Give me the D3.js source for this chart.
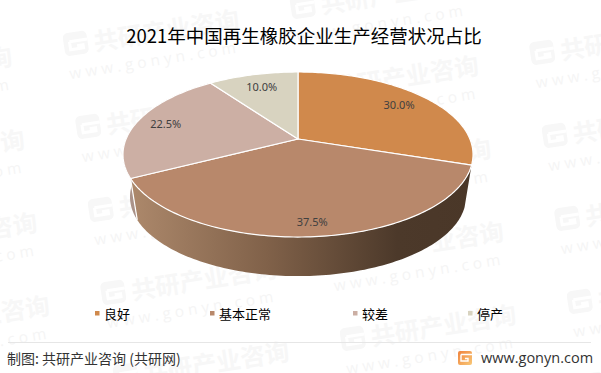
<!DOCTYPE html>
<html>
<head>
<meta charset="utf-8">
<script src="https://cdn.jsdelivr.net/npm/d3@7"></script>
<style>
html,body{margin:0;padding:0;background:#fff;}
svg{display:block;}
text{font-family:"Noto Sans CJK SC","Noto Sans",sans-serif;}
</style>
</head>
<body>
<script>
var categories=['良好','基本正常','较差','停产'];
var shares=[30.0,37.5,22.5,10.0];
var colors=['#d0894c','#b8886b','#ccafa4','#d8d3c0'];
var titleText='2021年中国再生橡胶企业生产经营状况占比';
var sourceText='制图: 共研产业咨询 (共研网)';
var siteText='www.gonyn.com';
var markText='共研产业咨询';
var markSite='w w w . g o n y n . c o m';

var width=601,height=373;
var svg=d3.select('body').append('svg').attr('width',width).attr('height',height);
var defs=svg.append('defs');

// background watermark, repeated on a slanted lattice
var wm=svg.append('g').attr('id','watermark');
for(var i=-1;i<=3;i++){
    for(var j=-1;j<=5;j++){
        var ox=75+227*i+12.5*j, oy=45-37*i+83*j;
        if(ox<-200||ox>width||oy<-20||oy>height+30) continue;
        var t=wm.append('g').attr('transform','translate('+ox+','+oy+') rotate(-9)');
        t.append('rect').attr('x',-11).attr('y',-13).attr('width',24).attr('height',23).attr('rx',5).style('fill','#f7f7f7');
        t.append('path').attr('d','M-5,-4H13M-5,-4V4H8V1H2').style('fill','none').style('stroke','#fff').style('stroke-width',3);
        t.append('text').attr('x',19).attr('y',9).text(markText)
        .style('font-size','24.5px').style('font-weight',700).style('fill','#f7f7f7');
        t.append('text').attr('x',-10).attr('y',33).text(markSite)
        .style('font-family','"Open Sans"').style('font-size','15.5px').style('fill','#f5f5f5');
    }
}

// projective view of the pie disc, the apex is not at the ellipse centre
var cx=298,cy=139,A=171.9,B=79.6,k=0.188;
var depthScale=0.96,depthDrop=43;
function project(angle,f,s,drop){
    var X=Math.sin(angle)*f,Y=Math.cos(angle)*f;
    var w=1+k*Y;
    return [cx+s*A*X/w,cy+drop-s*B*Y/w];
}
function rim(a0,a1,s,drop){
    var n=Math.max(2,Math.ceil((a1-a0)/0.02));
    return d3.range(n+1).map(function(q){
        return project(a0+(a1-a0)*q/n,1,s,drop);
    });
}
var line=d3.line();
var arcs=d3.pie().sort(null).value(function(d){return d;})(shares);

var sideStops=[
    [['0%','#b09a90'],['100%','#a68d84']],
    [['0%','#ac886b'],['40%','#806149'],['78%','#4c392a'],['100%','#4a3728']]
];
var g1=defs.append('linearGradient').attr('id','sideA').attr('gradientUnits','userSpaceOnUse')
.attr('x1',122).attr('x2',140).attr('y1',0).attr('y2',0);
sideStops[0].forEach(function(s){g1.append('stop').attr('offset',s[0]).attr('stop-color',s[1]);});
var g2=defs.append('linearGradient').attr('id','sideB').attr('gradientUnits','userSpaceOnUse')
.attr('x1',132).attr('x2',472).attr('y1',0).attr('y2',0);
sideStops[1].forEach(function(s){g2.append('stop').attr('offset',s[0]).attr('stop-color',s[1]);});

var pie=svg.append('g').attr('id','pie');
// side wall first, only the two front slices show any of it
pie.selectAll('path.side')
.data(arcs.filter(function(d){return d.index==1||d.index==2;}))
.enter().append('path')
.attr('class','side')
.attr('d',function(d){
    var top=rim(d.startAngle,d.endAngle,1,0);
    var low=rim(d.startAngle,d.endAngle,depthScale,depthDrop).reverse();
    return line(top.concat(low))+'Z';
})
.style('fill',function(d){return d.index==1?'url(#sideB)':'url(#sideA)';});
// white seam where the two side walls meet
var seam=arcs[1].endAngle;
pie.append('path')
.attr('d',line([project(seam,1,1,0),project(seam,1,depthScale,depthDrop)]))
.style('stroke','#fff').style('stroke-width',1.2).style('fill','none');

pie.selectAll('path.slice')
.data(arcs)
.enter().append('path')
.attr('class','slice')
.attr('d',function(d){
    return line([[cx,cy]].concat(rim(d.startAngle,d.endAngle,1,0)))+'Z';
})
.style('fill',function(d){return colors[d.index];})
.style('stroke','#fff').style('stroke-width',1.2).style('stroke-linejoin','round');

// labels
var labelRadius=[0.79,0.88,0.82,0.78];
pie.selectAll('text')
.data(arcs)
.enter().append('text')
.attr('transform',function(d){
    return 'translate('+project((d.startAngle+d.endAngle)/2,labelRadius[d.index],1,0)+')';
})
.attr('text-anchor','middle')
.attr('dy','0.35em')
.style('font-family','"Noto Sans"')
.style('font-size','11px')
.style('fill','#404040')
.text(function(d){return d.data.toFixed(1)+'%';});

svg.append('text')
.attr('id','title')
.attr('x',304).attr('y',43)
.attr('text-anchor','middle')
.style('font-size','18.5px')
.style('fill','#000')
.text(titleText);

// legend
var legendX=d3.scaleOrdinal().domain(categories).range([95,210,353,468]);
var legend=svg.append('g').attr('id','legend');
categories.forEach(function(c,i){
    legend.append('rect')
    .attr('x',legendX(c)).attr('y',311).attr('width',4.5).attr('height',4.5)
    .style('fill',colors[i]);
    legend.append('text')
    .attr('x',legendX(c)+9).attr('y',318.5)
    .style('font-size','13px').style('fill','#000')
    .text(c);
});

// footer
svg.append('line').attr('x1',8).attr('x2',591).attr('y1',342.5).attr('y2',342.5)
.style('stroke','#e6e6e6').style('stroke-width',1);
svg.append('text').attr('x',7).attr('y',364)
.style('font-size','14px').style('fill','#333').text(sourceText);
var logoGrad=defs.append('linearGradient').attr('id','logoGrad').attr('x1',0).attr('x2',1).attr('y1',0).attr('y2',1);
logoGrad.append('stop').attr('offset','0%').attr('stop-color','#f0823c');
logoGrad.append('stop').attr('offset','100%').attr('stop-color','#f8c878');
svg.append('rect').attr('x',458).attr('y',351).attr('width',14).attr('height',14).attr('rx',2).style('fill','url(#logoGrad)');
svg.append('path').attr('d','M461,354.5H472M461,354.5V361H468V358.5H465').style('fill','none').style('stroke','#fff').style('stroke-width',1.4);
svg.append('text').attr('x',481).attr('y',362.5)
.style('font-family','"Open Sans"').style('font-size','14.5px').style('fill','#333').text(siteText);
</script>
</body>
</html>
